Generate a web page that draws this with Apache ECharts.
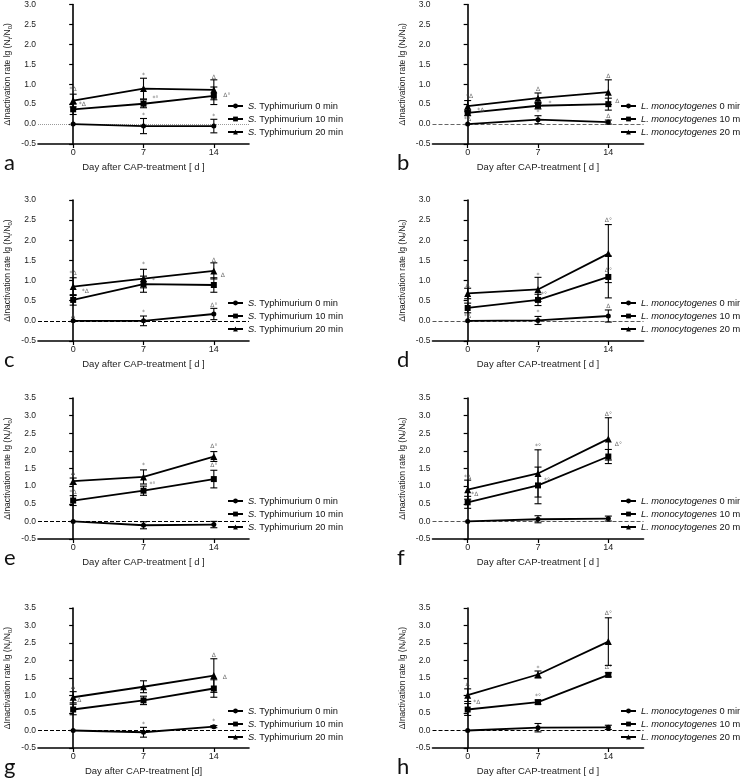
<!DOCTYPE html>
<html>
<head>
<meta charset="utf-8">
<script src="https://cdn.jsdelivr.net/npm/echarts@6/dist/echarts.min.js"></script>
<style>
  html, body { margin: 0; padding: 0; background: #fff; }
  #chart { width: 740px; height: 781px; }
</style>
</head>
<body>
<div id="chart"></div>
<script>
// days after CAP treatment
var days = [0, 7, 14];
var xTicks = [0, 7, 14];

// a: S. Typhimurium
var a0 = [0, -0.05, -0.05],  a0Err = [0, 0.19, 0.17];
var a10 = [0.37, 0.51, 0.71], a10Err = [0.13, 0.1, 0.22];
var a20 = [0.59, 0.89, 0.86], a20Err = [0.16, 0.26, 0.25];
// b: L. monocytogenes
var b0 = [0, 0.11, 0.05],    b0Err = [0, 0.1, 0.05];
var b10 = [0.28, 0.46, 0.5],  b10Err = [0.07, 0.08, 0.15];
var b20 = [0.45, 0.65, 0.8],  b20Err = [0.14, 0.13, 0.31];
// c
var c0 = [0, 0, 0.17],        c0Err = [0, 0.12, 0.14];
var c10 = [0.52, 0.91, 0.89], c10Err = [0.13, 0.2, 0.18];
var c20 = [0.85, 1.05, 1.24], c20Err = [0.22, 0.23, 0.2];
// d
var d0 = [0, 0.01, 0.12],     d0Err = [0, 0.1, 0.15];
var d10 = [0.32, 0.52, 1.09], d10Err = [0.12, 0.14, 0.52];
var d20 = [0.68, 0.78, 1.67], d20Err = [0.13, 0.3, 0.72];
// e
var e0 = [0, -0.11, -0.09],   e0Err = [0, 0.1, 0.09];
var e10 = [0.59, 0.87, 1.2],  e10Err = [0.14, 0.13, 0.25];
var e20 = [1.14, 1.26, 1.84], e20Err = [0.09, 0.2, 0.14];
// f
var f0 = [0, 0.06, 0.08],     f0Err = [0, 0.1, 0.07];
var f10 = [0.54, 1.02, 1.84], f10Err = [0.17, 0.52, 0.2];
var f20 = [0.9, 1.36, 2.34],  f20Err = [0.27, 0.67, 0.6];
// g
var g0 = [0, -0.05, 0.11],    g0Err = [0, 0.14, 0.03];
var g10 = [0.6, 0.86, 1.2],   g10Err = [0.15, 0.12, 0.25];
var g20 = [0.95, 1.25, 1.57], g20Err = [0.16, 0.17, 0.48];
// h
var h0 = [0, 0.08, 0.09],     h0Err = [0, 0.12, 0.06];
var h10 = [0.6, 0.81, 1.59],  h10Err = [0.17, 0.06, 0.06];
var h20 = [1.01, 1.6, 2.54],  h20Err = [0.18, 0.1, 0.68];

// significance marks [day, value, text]
var aMarks = [[0, 0.86, '*Δ'], [0.9, 0.5, '*Δ'], [7, 1.23, '*'], [8.2, 0.65, '*°'], [14, 1.18, 'Δ'], [15.3, 0.73, 'Δ°'], [7, 0.21, '*'], [14, 0.2, '*']];
var bMarks = [[0.2, 0.7, '*Δ'], [1.3, 0.34, '*Δ'], [0, 0.12, '*Δ'], [7, 0.86, 'Δ'], [8.2, 0.52, '*'], [7, 0.28, '*'], [14, 1.2, 'Δ'], [14.9, 0.58, 'Δ'], [14, 0.2, 'Δ']];
var cMarks = [[0, 1.17, '*Δ'], [1.2, 0.72, '*Δ'], [0, 0.12, 'Δ'], [7, 1.39, '*'], [8, 1.0, '*'], [7, 0.21, '*'], [14, 1.5, 'Δ'], [14.9, 1.13, 'Δ'], [14, 0.39, 'Δ°']];
var dMarks = [[0, 0.89, 'Δ'], [0, 0.12, '*Δ'], [7, 1.12, '*'], [7.6, 0.66, '*°'], [7, 0.2, '*'], [14, 2.5, 'Δ°'], [14, 1.25, 'Δ°'], [14, 0.37, 'Δ']];
var eMarks = [[0, 1.36, 'Δ'], [0, 0.83, '*Δ'], [7, 1.58, '*'], [7.9, 1.05, '*°'], [14, 2.12, 'Δ°'], [14, 1.58, 'Δ°']];
var fMarks = [[0, 1.25, '*Δ'], [0.7, 0.77, '*Δ'], [7, 2.12, '*°'], [7.9, 1.15, '*°'], [14, 3.03, 'Δ°'], [15, 2.17, 'Δ°']];
var gMarks = [[0, 1.23, 'Δ'], [0.6, 0.86, 'Δ'], [7, 0.18, '*'], [14, 2.15, 'Δ'], [15.1, 1.53, 'Δ'], [14, 0.25, '*']];
var hMarks = [[0, 1.33, 'Δ'], [0.9, 0.8, '*Δ'], [7, 1.78, '*'], [7, 0.98, '*°'], [14, 3.35, 'Δ°'], [14, 1.8, 'Δ°']];

var FONT = 'Liberation Sans, Arial, sans-serif';

var panels = [
    {id: 'a', org: 'S', left: 38,    top: 3,   h: 141, ymax: 3,   zero: '#9a9a9a', zeroType: 'dotted', v: [a0, a10, a20], e: [a0Err, a10Err, a20Err], marks: aMarks, unit: '[ d ]'},
    {id: 'b', org: 'L', left: 432.5, top: 3,   h: 141, ymax: 3,   zero: '#666',    zeroType: 'dashed', v: [b0, b10, b20], e: [b0Err, b10Err, b20Err], marks: bMarks, unit: '[ d ]'},
    {id: 'c', org: 'S', left: 38,    top: 200, h: 141, ymax: 3,   zero: '#000',    zeroType: 'dashed', v: [c0, c10, c20], e: [c0Err, c10Err, c20Err], marks: cMarks, unit: '[ d ]'},
    {id: 'd', org: 'L', left: 432.5, top: 200, h: 141, ymax: 3,   zero: '#555',    zeroType: 'dashed', v: [d0, d10, d20], e: [d0Err, d10Err, d20Err], marks: dMarks, unit: '[ d ]'},
    {id: 'e', org: 'S', left: 38,    top: 398, h: 141, ymax: 3.5, zero: '#000',    zeroType: 'dashed', v: [e0, e10, e20], e: [e0Err, e10Err, e20Err], marks: eMarks, unit: '[ d ]'},
    {id: 'f', org: 'L', left: 432.5, top: 398, h: 141, ymax: 3.5, zero: '#555',    zeroType: 'dashed', v: [f0, f10, f20], e: [f0Err, f10Err, f20Err], marks: fMarks, unit: '[ d ]'},
    {id: 'g', org: 'S', left: 38,    top: 608, h: 140, ymax: 3.5, zero: '#000',    zeroType: 'dashed', v: [g0, g10, g20], e: [g0Err, g10Err, g20Err], marks: gMarks, unit: '[d]'},
    {id: 'h', org: 'L', left: 432.5, top: 608, h: 140, ymax: 3.5, zero: '#000',    zeroType: 'dashed', v: [h0, h10, h20], e: [h0Err, h10Err, h20Err], marks: hMarks, unit: '[ d ]'}
];
var minutes = ['0 min', '10 min', '20 min'];
var symbols = ['circle', 'rect', 'triangle'];
var symbolSizes = [5, 6, 7];

function renderErr(params, api) {
    var x = api.value(0), lo = api.value(1), hi = api.value(2);
    if (hi - lo < 1e-6) return null;
    var p1 = api.coord([x, hi]), p2 = api.coord([x, lo]);
    var cap = 3.5, st = {stroke: '#000', lineWidth: 1.1};
    return {
        type: 'group',
        children: [
            {type: 'line', shape: {x1: p1[0], y1: p1[1], x2: p2[0], y2: p2[1]}, style: st},
            {type: 'line', shape: {x1: p1[0] - cap, y1: p1[1], x2: p1[0] + cap, y2: p1[1]}, style: st},
            {type: 'line', shape: {x1: p2[0] - cap, y1: p2[1], x2: p2[0] + cap, y2: p2[1]}, style: st}
        ]
    };
}

function legendText(name) {
    var label = name.split('|')[1];
    if (label.indexOf('S.') === 0) {
        return '{i|S.}{n|' + label.slice(2) + '}';
    }
    return '{i|L. monocytogenes}{n|' + label.slice(16) + '}';
}

var grids = [], xAxes = [], yAxes = [], series = [], legends = [], graphics = [];

panels.forEach(function(p, i) {
    grids.push({left: p.left, top: p.top, width: 211, height: p.h});
    xAxes.push({
        type: 'value', gridIndex: i, min: -3.5, max: 17.5,
        name: 'Day after CAP-treatment ' + p.unit,
        nameLocation: 'middle', nameGap: 18,
        nameTextStyle: {fontFamily: FONT, fontSize: 9.5, color: '#222'},
        axisLine: {onZero: false, lineStyle: {color: '#000', width: 1.6}},
        axisTick: {show: true, length: 4, customValues: xTicks, lineStyle: {color: '#000', width: 1.2}},
        axisLabel: {customValues: xTicks, fontFamily: FONT, fontSize: 9, color: '#222', margin: 4},
        splitLine: {show: false}
    });
    yAxes.push({
        type: 'value', gridIndex: i, min: -0.5, max: p.ymax, interval: 0.5,
        name: 'ΔInactivation rate lg (N{sub|t}/N{sub|0})',
        nameLocation: 'middle', nameGap: 25, nameRotate: 90,
        nameTextStyle: {fontFamily: FONT, fontSize: 8.5, color: '#222',
            rich: {sub: {fontSize: 6, verticalAlign: 'bottom', padding: [4, 0, 0, 0], fontFamily: FONT, color: '#222'}}},
        axisLine: {show: true, lineStyle: {color: '#000', width: 1.6}},
        axisTick: {show: true, length: 4, lineStyle: {color: '#000', width: 1.2}},
        axisLabel: {fontFamily: FONT, fontSize: 8.5, color: '#222', margin: 2,
            formatter: function(v) { return v.toFixed(1); }},
        splitLine: {show: false}
    });

    var orgName = p.org === 'S' ? 'S. Typhimurium ' : 'L. monocytogenes ';
    var names = [];
    // error bars
    p.v.forEach(function(vals, k) {
        var errData = days.map(function(d, j) {
            return [d, vals[j] - p.e[k][j], vals[j] + p.e[k][j]];
        });
        series.push({
            type: 'custom', xAxisIndex: i, yAxisIndex: i, renderItem: renderErr,
            data: errData, encode: {x: 0, y: [1, 2]}, z: 2, silent: true
        });
    });
    // mean lines
    p.v.forEach(function(vals, k) {
        var nm = p.id + '|' + orgName + minutes[k];
        names.push(nm);
        series.push({
            name: nm, type: 'line', xAxisIndex: i, yAxisIndex: i,
            data: days.map(function(d, j) { return [d, vals[j]]; }),
            symbol: symbols[k], symbolSize: symbolSizes[k],
            lineStyle: {color: '#000', width: 1.8},
            itemStyle: {color: '#000'},
            z: 3, animation: false
        });
    });
    // significance marks, plus the dashed zero line
    series.push({
        type: 'scatter', xAxisIndex: i, yAxisIndex: i, symbolSize: 0, z: 4,
        data: p.marks,
        label: {show: true, position: 'inside', fontFamily: 'DejaVu Sans, sans-serif', fontSize: 6, color: '#444',
            formatter: function(q) { return q.value[2]; }},
        markLine: {
            silent: true, symbol: 'none', label: {show: false}, z: 1,
            lineStyle: {color: p.zero, type: p.zeroType, width: 1},
            data: [{yAxis: 0}]
        },
        silent: true
    });

    legends.push({
        data: names, orient: 'vertical', selectedMode: false,
        left: p.left === 38 ? 222 : 615, top: p.top + 92.5,
        itemWidth: 15, itemHeight: 6, itemGap: 2,
        formatter: legendText,
        textStyle: {fontFamily: FONT, fontSize: 9.3, color: '#111', lineHeight: 11,
            rich: {i: {fontStyle: 'italic', fontFamily: FONT, fontSize: 9.3, color: '#111'},
                   n: {fontFamily: FONT, fontSize: 9.3, color: '#111'}}}
    });

    graphics.push({
        type: 'text', left: p.left === 38 ? 4 : 397, top: p.top + (p.id === 'g' || p.id === 'h' ? 148 : 149),
        style: {text: p.id, font: '22px Lato, "Open Sans", sans-serif', fill: '#111'}
    });
});

var chart = echarts.init(document.getElementById('chart'), null, {renderer: 'canvas'});
chart.setOption({
    backgroundColor: '#fff',
    animation: false,
    grid: grids,
    xAxis: xAxes,
    yAxis: yAxes,
    legend: legends,
    graphic: graphics,
    series: series
});
</script>
</body>
</html>
